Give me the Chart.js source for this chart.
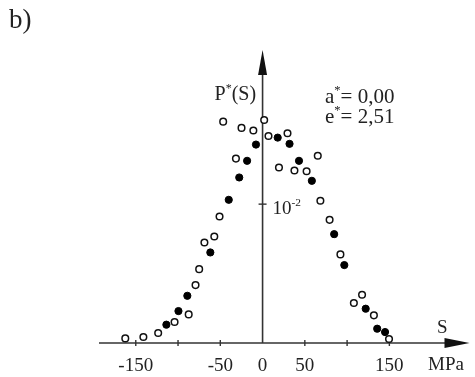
<!DOCTYPE html>
<html>
<head>
<meta charset="utf-8">
<script src="https://cdn.jsdelivr.net/npm/chart.js@4"></script>
<style>
  body { margin: 0; background: #fff; }
  canvas { display: block; }
</style>
</head>
<body>
<canvas id="myChart" width="475" height="377"></canvas>
<script>
// S in MPa, P*(S)
const openS = [-162.4, -141.0, -123.5, -104.1, -87.4, -79.3, -75.0, -68.8, -57.1, -50.9, -46.6, -31.5, -24.9, -10.9, 1.9, 7.0, 19.4, 29.5, 37.7, 52.1, 65.3, 68.4, 79.3, 92.1, 108.0, 117.7, 131.7, 149.6]
const openP = [0.00033, 0.00043, 0.00072, 0.00151, 0.00206, 0.00417, 0.00532, 0.00724, 0.00767, 0.00911, 0.01594, 0.01328, 0.01549, 0.01530, 0.01606, 0.01491, 0.01264, 0.01511, 0.01242, 0.01237, 0.01348, 0.01024, 0.00887, 0.00638, 0.00288, 0.00347, 0.00199, 0.00029]
const fullS = [-113.8, -99.5, -89.0, -61.8, -40.0, -27.6, -18.3, -7.8, 17.9, 31.9, 43.1, 58.3, 84.7, 96.7, 122.0, 135.6, 144.9]
const fullP = [0.00132, 0.00230, 0.00340, 0.00652, 0.01031, 0.01192, 0.01312, 0.01429, 0.01479, 0.01434, 0.01312, 0.01168, 0.00784, 0.00561, 0.00247, 0.00103, 0.00079]

const tickValues = [-150, -100, -50, 0, 50, 100, 150]
const tickLabels = ['-150', '', '-50', '0', '50', '', '150']
const yTickValue = 0.01

const serif = "'Liberation Serif', 'DejaVu Serif', serif"
const ink = '#222'

const toPoints = (xs, ys) => xs.map((v, i) => ({ x: v, y: ys[i] }))

// text with a raised small part, e.g. P*(S)
const supText = (ctx, parts, x, y, size) => {
  let cx = x
  parts.forEach(p => {
    const s = p.sup ? size * 0.6 : size
    ctx.font = `${s}px ${serif}`
    ctx.fillText(p.t, cx, p.sup ? y - size * 0.42 : y)
    cx += ctx.measureText(p.t).width
  })
}

const axesPlugin = {
  id: 'axes',
  beforeDatasetsDraw(chart) {
    const { ctx, chartArea } = chart
    const x = chart.scales.x
    const y = chart.scales.y
    const x0 = x.getPixelForValue(0)
    const yb = y.getPixelForValue(0)

    ctx.save()
    ctx.strokeStyle = '#333'
    ctx.fillStyle = '#111'
    ctx.lineWidth = 1.6

    // horizontal axis + arrow
    ctx.beginPath()
    ctx.moveTo(chartArea.left, yb)
    ctx.lineTo(chartArea.right - 20, yb)
    ctx.stroke()
    ctx.beginPath()
    ctx.moveTo(chartArea.right, yb)
    ctx.lineTo(chartArea.right - 25, yb - 5)
    ctx.lineTo(chartArea.right - 25, yb + 5)
    ctx.closePath()
    ctx.fill()

    // vertical axis + arrow
    ctx.beginPath()
    ctx.moveTo(x0, yb)
    ctx.lineTo(x0, chartArea.top + 20)
    ctx.stroke()
    ctx.beginPath()
    ctx.moveTo(x0, chartArea.top)
    ctx.lineTo(x0 - 4.5, chartArea.top + 25)
    ctx.lineTo(x0 + 4.5, chartArea.top + 25)
    ctx.closePath()
    ctx.fill()

    // tick marks
    ctx.lineWidth = 1.4
    tickValues.forEach(v => {
      if (v === 0) return
      const px = x.getPixelForValue(v)
      ctx.beginPath()
      ctx.moveTo(px, yb - 3)
      ctx.lineTo(px, yb + 3)
      ctx.stroke()
    })
    const yt = y.getPixelForValue(yTickValue)
    ctx.beginPath()
    ctx.moveTo(x0 - 4, yt)
    ctx.lineTo(x0 + 4, yt)
    ctx.stroke()

    // texts
    ctx.fillStyle = ink
    ctx.textBaseline = 'alphabetic'
    ctx.textAlign = 'left'
    supText(ctx, [{ t: '10' }, { t: '-2', sup: true }], x0 + 10, yt + 10, 19)
    supText(ctx, [{ t: 'P' }, { t: '*', sup: true }, { t: '(S)' }], x0 - 48, 100, 20)
    supText(ctx, [{ t: 'a' }, { t: '*', sup: true }, { t: '= 0,00' }], 325, 103, 21)
    supText(ctx, [{ t: 'e' }, { t: '*', sup: true }, { t: '= 2,51' }], 325, 123, 21)
    ctx.font = `19px ${serif}`
    ctx.fillText('S', 437, yb - 10)
    ctx.fillText('MPa', 428, 370)
    ctx.font = `27px ${serif}`
    ctx.fillText('b)', 9, 28)
    ctx.restore()
  }
}

new Chart(document.getElementById('myChart'), {
  type: 'scatter',
  data: {
    datasets: [
      {
        label: 'open',
        data: toPoints(openS, openP),
        pointRadius: 3.3,
        pointBackgroundColor: '#fff',
        pointBorderColor: '#111',
        pointBorderWidth: 1.5,
        clip: false
      },
      {
        label: 'filled',
        data: toPoints(fullS, fullP),
        pointRadius: 3.6,
        pointBackgroundColor: '#000',
        pointBorderColor: '#000',
        pointBorderWidth: 1,
        clip: false
      }
    ]
  },
  options: {
    responsive: false,
    animation: false,
    devicePixelRatio: 1,
    layout: { padding: { left: 99, top: 50, right: 0, bottom: 0 } },
    plugins: { legend: { display: false }, tooltip: { enabled: false } },
    scales: {
      x: {
        type: 'linear',
        min: -193.5,
        max: 244.8,
        grid: { display: false },
        border: { display: false },
        afterBuildTicks: (axis) => {
          axis.ticks = tickValues.map(v => ({ value: v }))
        },
        afterFit: (axis) => { axis.height = 34 },
        ticks: {
          padding: 4,
          color: ink,
          font: { family: serif, size: 19 },
          maxRotation: 0,
          autoSkip: false,
          callback: (v) => tickLabels[tickValues.indexOf(v)]
        }
      },
      y: {
        display: false,
        min: 0,
        max: 0.0211
      }
    }
  },
  plugins: [axesPlugin]
})
</script>
</body>
</html>
